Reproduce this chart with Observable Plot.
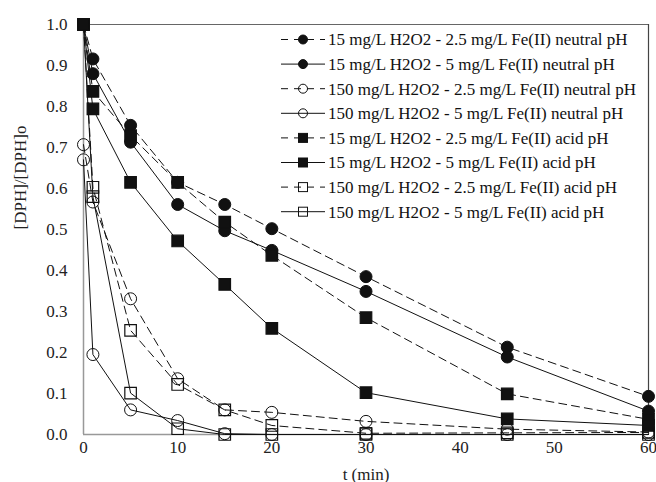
<!DOCTYPE html>
<html>
<head>
<meta charset="utf-8">
<script src="https://cdn.jsdelivr.net/npm/d3@7"></script>
<script src="https://cdn.jsdelivr.net/npm/@observablehq/plot@0.6"></script>
<style>
  html, body { margin: 0; padding: 0; background: #fff; }
  #chart { position: relative; width: 656px; height: 482px; }
</style>
</head>
<body>
<div id="chart"></div>
<script>
const times = [0, 1, 5, 10, 15, 20, 30, 45, 60];
const seriesNames = [
  "15 mg/L H2O2 - 2.5 mg/L Fe(II) neutral pH",
  "15 mg/L H2O2 - 5 mg/L Fe(II) neutral pH",
  "150 mg/L H2O2 - 2.5 mg/L Fe(II) neutral pH",
  "150 mg/L H2O2 - 5 mg/L Fe(II) neutral pH",
  "15 mg/L H2O2 - 2.5 mg/L Fe(II) acid pH",
  "15 mg/L H2O2 - 5 mg/L Fe(II) acid pH",
  "150 mg/L H2O2 - 2.5 mg/L Fe(II) acid pH",
  "150 mg/L H2O2 - 5 mg/L Fe(II) acid pH"
];
const s1 = [1.0, 0.916, 0.754, 0.615, 0.561, 0.502, 0.385, 0.213, 0.093];
const s2 = [1.0, 0.880, 0.713, 0.561, 0.497, 0.449, 0.349, 0.189, 0.057];
const s3 = [0.707, 0.567, 0.331, 0.136, 0.060, 0.054, 0.032, 0.013, 0.006];
const s4 = [0.670, 0.195, 0.060, 0.034, 0.002, 0.0, 0.0, 0.0, 0.0];
const s5 = [1.0, 0.837, 0.729, 0.615, 0.518, 0.437, 0.285, 0.099, 0.037];
const s6 = [1.0, 0.794, 0.615, 0.472, 0.366, 0.259, 0.102, 0.038, 0.022];
const s7 = [1.0, 0.603, 0.254, 0.122, 0.060, 0.022, 0.003, 0.004, 0.005];
const s8 = [1.0, 0.580, 0.101, 0.014, 0.0, 0.0, 0.0, 0.0, 0.0];
const seriesValues = [s1, s2, s3, s4, s5, s6, s7, s8];
const seriesDashed = [true, false, true, false, true, false, true, false];
const seriesSymbol = ["circle", "circle", "circle", "circle", "square", "square", "square", "square"];
const seriesFilled = [true, true, false, false, true, true, false, false];
const yTicks = [0, 0.1, 0.2, 0.3, 0.4, 0.5, 0.6, 0.7, 0.8, 0.9, 1.0];
const xTicks = [0, 10, 20, 30, 40, 50, 60];

const rows = [];
seriesValues.forEach((vals, i) => {
  vals.forEach((v, j) => rows.push({
    series: seriesNames[i], idx: i, t: times[j], v,
    dashed: seriesDashed[i], symbol: seriesSymbol[i], filled: seriesFilled[i]
  }));
});

const font = "'Liberation Serif', 'Times New Roman', serif";
const W = 656, H = 482;
const mL = 83, mR = 8, mT = 24, mB = 48;
const FS = 17;

const plot = Plot.plot({
  width: W, height: H,
  marginLeft: mL, marginRight: mR, marginTop: mT, marginBottom: mB,
  style: { fontFamily: font, fontSize: FS + "px", color: "#222", background: "#fff", overflow: "visible" },
  x: { domain: [0, 60], ticks: xTicks, label: null },
  y: { domain: [0, 1], ticks: yTicks, label: null },
  marks: [
    Plot.ruleY([1], { stroke: "#666", strokeWidth: 1.2 }),
    Plot.ruleX([60], { stroke: "#444", strokeWidth: 1.2 }),
    Plot.ruleX([0], { stroke: "#999", strokeWidth: 1.5 }),
    Plot.ruleY([0], { stroke: "#999", strokeWidth: 1.5 }),
    Plot.line(rows.filter(d => d.dashed), { x: "t", y: "v", z: "series", stroke: "#111", strokeWidth: 1, strokeDasharray: "8,5" }),
    Plot.line(rows.filter(d => !d.dashed), { x: "t", y: "v", z: "series", stroke: "#111", strokeWidth: 1 }),
    Plot.dot(rows.filter(d => d.symbol === "circle"), {
      x: "t", y: "v", r: 6, symbol: "circle",
      fill: d => d.filled ? "#111" : "none", stroke: "#111", strokeWidth: 1
    }),
    Plot.dot(rows.filter(d => d.symbol === "square"), {
      x: "t", y: "v", r: 6.5, symbol: "square",
      fill: d => d.filled ? "#111" : "none", stroke: "#111", strokeWidth: 1.2
    }),
    Plot.axisX({ ticks: xTicks, tickSize: 0, tickPadding: 6, tickFormat: d => d, label: null, fontSize: FS }),
    Plot.axisY({ ticks: yTicks, tickSize: 0, tickPadding: 16, tickFormat: d3.format(".1f"), label: null, fontSize: FS }),
    Plot.text(["t (min)"], { frameAnchor: "bottom", dy: 45, fontSize: FS }),
    Plot.text(["[DPH]/[DPH]o"], { frameAnchor: "left", dx: -63, rotate: -90, fontSize: FS })
  ]
});

document.getElementById("chart").appendChild(plot);

// Legend (inside the SVG, upper right)
const svg = d3.select(plot);
const lg = svg.append("g")
  .attr("font-family", font).attr("font-size", FS).attr("fill", "#111")
  .attr("text-anchor", "start");
seriesNames.forEach((name, i) => {
  const y = 39.5 + i * 24.6;
  const g = lg.append("g").attr("transform", `translate(0,${y})`);
  g.append("line").attr("x1", 281).attr("x2", 325).attr("y1", 0).attr("y2", 0)
    .attr("stroke", "#111").attr("stroke-width", 1)
    .attr("stroke-dasharray", seriesDashed[i] ? "7,6" : null);
  if (seriesSymbol[i] === "circle") {
    g.append("circle").attr("cx", 303).attr("cy", 0).attr("r", 4.5)
      .attr("fill", seriesFilled[i] ? "#111" : "none").attr("stroke", "#111");
  } else {
    g.append("rect").attr("x", 298.5).attr("y", -4.5).attr("width", 9).attr("height", 9)
      .attr("fill", seriesFilled[i] ? "#111" : "none").attr("stroke", "#111");
  }
  g.append("text").attr("x", 328).attr("y", 0).attr("dy", "0.35em")
    .attr("text-anchor", "start").text(name);
});
</script>
</body>
</html>
